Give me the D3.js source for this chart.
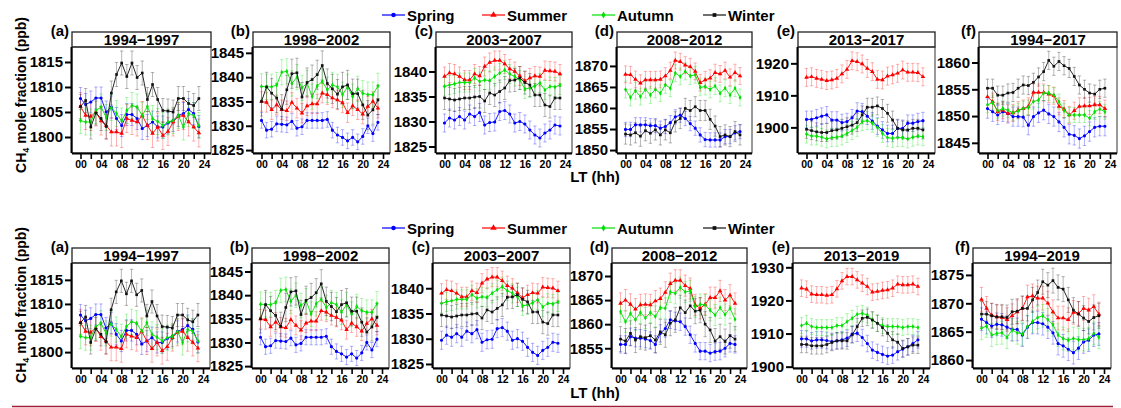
<!DOCTYPE html>
<html>
<head>
<meta charset="utf-8">
<script src="https://cdn.jsdelivr.net/npm/d3@7"></script>
<style>
  body { margin: 0; background: #fff; }
  svg { display: block; font-family: "Liberation Sans", Arial, sans-serif; font-weight: bold; }
</style>
</head>
<body>
<div class="chart"></div>
<script>
// DATA ------------------------------------

const hours = [0,1,2,3,4,5,6,7,8,9,10,11,12,13,14,15,16,17,18,19,20,21,22,23];
const seasons = ["Spring", "Summer", "Autumn", "Winter"];
const letters = ["(a)", "(b)", "(c)", "(d)", "(e)", "(f)"];
const periodsTop = ["1994−1997", "1998−2002", "2003−2007", "2008−2012", "2013−2017", "1994−2017"];
const periodsBottom = ["1994−1997", "1998−2002", "2003−2007", "2008−2012", "2013−2019", "1994−2019"];
const xTicks = [0,2,4,6,8,10,12,14,16,18,20,22,24];
const xTickLabels = ["00","","04","","08","","12","","16","","20","","24"];

// 1994-1997
const spr9497 = [1807.7,1806.5,1807.0,1807.8,1807.8,1805.0,1806.0,1803.7,1802.3,1804.5,1804.5,1803.7,1801.7,1802.3,1803.0,1802.0,1802.0,1802.8,1803.3,1804.3,1804.7,1805.5,1804.7,1802.1];
const sum9497 = [1806.1,1804.3,1804.1,1805.0,1803.2,1802.3,1801.0,1801.0,1800.7,1803.7,1803.3,1803.0,1804.3,1802.3,1800.7,1802.0,1800.3,1801.1,1803.0,1804.1,1804.3,1803.0,1802.0,1800.8];
const aut9497 = [1803.3,1803.0,1803.0,1805.3,1806.0,1803.9,1805.9,1804.7,1803.2,1805.3,1806.3,1806.0,1804.3,1806.1,1803.7,1803.1,1802.3,1803.0,1803.3,1804.3,1802.0,1804.7,1804.3,1802.3];
const win9497 = [1806.1,1807.3,1802.0,1804.8,1803.7,1802.1,1808.8,1812.5,1814.8,1812.1,1814.8,1811.9,1812.8,1807.5,1810.5,1807.5,1805.3,1805.2,1805.0,1807.7,1807.7,1806.7,1806.3,1807.7];
const err9497 = [2.2, 2.8, 2.6, 2.4];
const ticks9497 = [1800, 1805, 1810, 1815];

// 1998-2002
const spr9802 = [1831.1,1829.1,1829.3,1830.4,1830.3,1830.2,1830.9,1829.5,1829.8,1831.1,1831.1,1831.1,1831.1,1831.3,1829.1,1828.1,1827.6,1826.9,1827.6,1826.7,1827.8,1830.0,1828.4,1830.7];
const sum9802 = [1835.0,1834.8,1833.3,1834.3,1833.3,1833.1,1834.8,1833.6,1832.6,1834.1,1834.5,1834.5,1836.7,1836.4,1835.7,1835.3,1834.7,1832.7,1834.1,1833.3,1832.4,1834.0,1835.0,1833.6];
const aut9802 = [1838.1,1838.0,1838.0,1838.4,1841.0,1841.2,1838.7,1840.0,1837.8,1838.8,1836.0,1838.2,1839.1,1837.4,1838.4,1838.0,1836.4,1838.0,1836.0,1837.6,1836.7,1836.4,1836.4,1838.2];
const win9802 = [1835.0,1838.0,1836.7,1835.7,1833.4,1837.4,1840.7,1840.9,1835.9,1838.9,1839.5,1840.5,1842.4,1838.7,1837.6,1836.5,1838.0,1838.4,1836.6,1836.6,1834.3,1832.2,1833.3,1835.3];
const err9802 = [1.6, 2.0, 2.6, 3.0];
const ticks9802 = [1825, 1830, 1835, 1840, 1845];

// 2003-2007
const spr0307 = [1829.7,1830.7,1830.3,1831.0,1830.3,1831.5,1831.0,1831.8,1829.3,1829.8,1829.9,1832.0,1832.2,1831.5,1829.7,1830.0,1829.5,1828.3,1827.3,1826.7,1827.7,1828.3,1829.3,1829.1];
const sum0307 = [1839.0,1839.7,1839.5,1839.0,1838.3,1838.3,1839.5,1839.1,1841.0,1841.8,1842.2,1842.2,1841.5,1840.5,1840.0,1839.1,1838.1,1838.7,1839.1,1839.0,1840.2,1840.1,1840.0,1839.5];
const aut0307 = [1837.0,1837.3,1837.5,1837.8,1837.8,1837.8,1838.7,1838.0,1838.3,1838.2,1839.0,1839.7,1840.3,1839.5,1839.0,1838.3,1836.5,1836.7,1837.1,1837.7,1836.3,1837.0,1836.9,1837.3];
const win0307 = [1834.7,1834.5,1834.3,1834.5,1834.7,1834.7,1834.9,1835.0,1834.1,1835.7,1835.3,1836.0,1836.7,1838.2,1838.3,1838.7,1837.8,1837.3,1835.3,1835.3,1833.3,1833.0,1834.7,1834.7];
const err0307 = [1.8, 1.9, 1.9, 2.3];
const ticks0307 = [1825, 1830, 1835, 1840];

// 2008-2012 (top row)
const spr0812t = [1854.9,1854.9,1856.0,1856.0,1856.0,1855.8,1855.8,1855.2,1855.6,1856.5,1857.9,1858.3,1857.5,1856.3,1855.2,1853.6,1852.5,1852.4,1852.4,1852.4,1853.2,1853.2,1854.1,1854.4];
const sum0812t = [1868.0,1867.9,1866.8,1865.9,1866.7,1866.7,1866.7,1866.8,1867.6,1868.9,1871.3,1871.0,1870.2,1869.8,1868.7,1866.0,1866.7,1867.1,1868.4,1868.1,1868.9,1867.3,1868.4,1867.6];
const aut0812t = [1864.4,1862.5,1864.1,1862.7,1864.4,1863.1,1864.4,1863.5,1865.5,1864.7,1868.3,1867.5,1868.7,1867.6,1867.9,1864.9,1865.1,1864.4,1865.2,1863.5,1864.7,1863.1,1864.7,1862.5];
const win0812t = [1853.8,1853.6,1854.1,1853.3,1854.6,1854.0,1854.8,1853.6,1854.8,1854.1,1856.7,1857.5,1859.9,1859.4,1860.3,1859.4,1859.4,1857.3,1855.7,1853.2,1853.6,1853.2,1854.4,1853.6];
const err0812t = [1.7, 2.0, 2.0, 2.4];
const ticks0812t = [1850, 1855, 1860, 1865, 1870];

// 2013-2017
const spr1317 = [1902.5,1902.5,1903.0,1903.5,1903.9,1902.3,1902.3,1901.5,1901.8,1903.0,1905.1,1904.9,1903.5,1902.0,1900.4,1899.2,1898.1,1898.1,1899.7,1899.7,1901.3,1901.3,1901.8,1902.1];
const sum1317 = [1915.6,1915.8,1915.3,1915.0,1914.6,1914.8,1915.3,1916.7,1918.1,1920.8,1920.5,1919.8,1918.4,1917.4,1915.0,1914.8,1916.0,1916.4,1916.9,1917.9,1917.2,1917.2,1917.1,1915.8];
const aut1317 = [1897.9,1897.3,1897.3,1896.9,1896.4,1896.8,1896.9,1897.3,1898.1,1899.0,1900.0,1901.8,1902.1,1901.3,1900.0,1898.1,1896.8,1896.6,1896.8,1896.8,1896.4,1896.9,1897.3,1897.1];
const win1317 = [1899.4,1899.0,1898.6,1898.4,1898.4,1899.0,1899.2,1899.7,1900.2,1900.7,1901.5,1903.9,1906.3,1906.3,1906.7,1905.9,1904.4,1902.3,1899.7,1899.2,1899.2,1899.7,1899.7,1899.2];
const err1317 = [2.6, 2.8, 2.8, 2.8];
const ticks1317 = [1900, 1910, 1920];

// 1994-2017
const spr9417 = [1851.4,1850.8,1850.2,1850.8,1850.5,1849.9,1849.9,1849.8,1848.3,1849.9,1850.6,1851.1,1850.4,1849.9,1848.9,1847.9,1846.6,1846.4,1845.8,1846.3,1847.1,1847.9,1848.1,1848.1];
const sum9417 = [1853.6,1852.7,1850.8,1851.1,1850.5,1850.6,1851.1,1851.4,1851.8,1854.4,1854.4,1854.4,1854.1,1853.8,1851.8,1851.3,1850.2,1851.0,1851.8,1851.9,1851.9,1852.1,1852.1,1851.4];
const aut9417 = [1852.1,1852.5,1851.0,1851.4,1851.1,1850.6,1851.0,1851.4,1851.6,1852.7,1853.0,1854.3,1854.3,1853.9,1852.7,1851.0,1850.2,1850.2,1850.2,1850.2,1849.6,1850.8,1851.3,1850.8];
const win9417 = [1855.2,1855.2,1853.9,1853.9,1854.3,1854.4,1855.2,1855.8,1855.7,1856.3,1857.3,1858.3,1860.4,1859.3,1860.2,1859.4,1858.9,1857.4,1855.8,1855.0,1854.3,1854.1,1855.0,1855.2];
const err9417 = [1.8, 1.6, 1.4, 1.7];
const ticks9417 = [1845, 1850, 1855, 1860];

// 2008-2012 (bottom row)
const spr0812b = [1855.8,1855.8,1857.4,1857.1,1857.1,1856.9,1856.6,1855.8,1858.1,1859.1,1860.9,1860.7,1860.5,1859.5,1857.8,1856.0,1854.4,1854.4,1854.0,1854.3,1854.4,1855.0,1856.0,1855.8];
const sum0812b = [1864.3,1865.0,1864.1,1863.1,1864.0,1864.1,1864.0,1864.8,1865.3,1866.6,1868.4,1869.1,1869.1,1868.0,1867.4,1864.0,1863.3,1864.1,1865.5,1865.5,1866.9,1865.0,1866.0,1864.3];
const aut0812b = [1862.6,1860.5,1862.2,1860.9,1862.4,1861.3,1862.4,1861.6,1863.4,1863.3,1866.7,1866.4,1867.6,1866.7,1866.9,1863.6,1864.1,1864.0,1862.9,1861.9,1863.4,1862.0,1863.3,1861.0];
const win0812b = [1856.9,1856.5,1858.1,1856.7,1857.4,1857.2,1857.6,1856.7,1858.4,1857.8,1860.2,1860.9,1863.4,1862.4,1863.8,1862.7,1862.9,1860.0,1858.8,1856.5,1857.4,1856.4,1857.6,1856.9];
const err0812b = [1.8, 2.2, 2.2, 2.6];
const ticks0812b = [1855, 1860, 1865, 1870];

// 2013-2019
const spr1319 = [1908.4,1908.4,1907.8,1908.1,1908.1,1907.9,1907.6,1907.8,1908.1,1908.6,1909.8,1910.1,1908.8,1907.0,1905.0,1904.3,1903.7,1903.2,1903.5,1904.5,1905.3,1906.0,1907.0,1908.1];
const sum1319 = [1923.7,1923.4,1921.9,1921.7,1921.7,1921.5,1921.7,1923.5,1925.9,1927.2,1927.2,1926.2,1925.2,1924.2,1922.5,1922.7,1923.0,1923.2,1923.7,1924.9,1924.7,1924.7,1924.9,1924.2];
const aut1319 = [1912.4,1913.1,1912.1,1911.8,1911.8,1911.8,1911.8,1912.4,1912.4,1913.6,1914.6,1915.8,1916.1,1915.6,1914.1,1913.1,1912.4,1912.1,1912.1,1912.1,1911.8,1912.1,1912.1,1911.8];
const win1319 = [1906.7,1906.7,1906.3,1906.3,1906.3,1906.7,1907.3,1907.8,1907.8,1907.8,1909.6,1912.1,1914.6,1914.9,1914.1,1913.1,1911.8,1910.1,1908.1,1907.4,1905.5,1906.0,1906.5,1906.5];
const err1319 = [2.5, 2.5, 2.4, 2.5];
const ticks1319 = [1900, 1910, 1920, 1930];

// 1994-2019
const spr9419 = [1867.2,1866.6,1866.0,1866.3,1866.2,1865.8,1865.4,1865.4,1864.4,1865.8,1866.6,1866.6,1866.4,1865.8,1864.8,1862.9,1862.5,1861.9,1861.3,1862.1,1863.2,1863.5,1864.4,1864.6];
const sum9419 = [1870.7,1869.1,1867.9,1867.6,1867.5,1867.1,1867.8,1868.5,1869.1,1871.1,1871.3,1870.9,1870.9,1870.0,1868.5,1867.4,1867.4,1867.1,1868.4,1868.2,1869.1,1868.8,1869.4,1868.1];
const aut9419 = [1865.6,1866.0,1864.4,1864.7,1864.8,1864.0,1865.3,1864.8,1864.6,1865.9,1866.8,1867.5,1867.8,1867.1,1866.2,1864.4,1863.8,1863.5,1863.8,1863.6,1863.6,1863.8,1864.7,1864.0];
const win9419 = [1868.1,1868.1,1867.8,1867.6,1867.6,1867.5,1868.5,1868.6,1869.1,1869.1,1870.6,1871.9,1873.8,1873.2,1874.0,1872.8,1872.5,1870.6,1868.8,1868.1,1867.4,1866.8,1867.5,1867.8];
const err9419 = [2.0, 2.1, 2.0, 2.2];
const ticks9419 = [1860, 1865, 1870, 1875];

// y extents of each panel frame
const domTop = [[1796.8, 1818], [1824.4, 1846.2], [1823.7, 1844.9], [1849.3, 1874.5], [1892, 1925.1], [1843.1, 1862.9]];
const domBottom = [[1796.7, 1818.5], [1824.6, 1846.8], [1824.2, 1845], [1850.9, 1872.7], [1899.6, 1931.3], [1858.6, 1877.1]];

// CHART INIT ------------------------------

const width = 1121, height = 408;
const colors = {Spring: "#0000ff", Summer: "#ff0000", Autumn: "#00e000", Winter: "#111111"};
const symbols = {Spring: d3.symbolCircle, Summer: d3.symbolTriangle, Autumn: d3.symbolDiamond, Winter: d3.symbolSquare};
const symSize = {Spring: 8, Summer: 9, Autumn: 7, Winter: 7};

const svg = d3.select(".chart").append("svg")
    .attr("width", width)
    .attr("height", height);

const rows = [
  {
    top: 47, bottom: 153, legendY: 15, lty: 182, ylabY: 95,
    lefts: [72, 253, 436, 617, 798, 979], widths: [139, 137, 136, 135, 137, 138],
    panels: [
      {period: periodsTop[0], series: [spr9497, sum9497, aut9497, win9497], err: err9497, ticks: ticks9497, dom: domTop[0]},
      {period: periodsTop[1], series: [spr9802, sum9802, aut9802, win9802], err: err9802, ticks: ticks9802, dom: domTop[1]},
      {period: periodsTop[2], series: [spr0307, sum0307, aut0307, win0307], err: err0307, ticks: ticks0307, dom: domTop[2]},
      {period: periodsTop[3], series: [spr0812t, sum0812t, aut0812t, win0812t], err: err0812t, ticks: ticks0812t, dom: domTop[3]},
      {period: periodsTop[4], series: [spr1317, sum1317, aut1317, win1317], err: err1317, ticks: ticks1317, dom: domTop[4]},
      {period: periodsTop[5], series: [spr9417, sum9417, aut9417, win9417], err: err9417, ticks: ticks9417, dom: domTop[5]}
    ]
  },
  {
    top: 263, bottom: 368, legendY: 228, lty: 398, ylabY: 305,
    lefts: [72, 252, 433, 612, 793, 973], widths: [138, 137, 137, 135, 137, 138],
    panels: [
      {period: periodsBottom[0], series: [spr9497, sum9497, aut9497, win9497], err: err9497, ticks: ticks9497, dom: domBottom[0]},
      {period: periodsBottom[1], series: [spr9802, sum9802, aut9802, win9802], err: err9802, ticks: ticks9802, dom: domBottom[1]},
      {period: periodsBottom[2], series: [spr0307, sum0307, aut0307, win0307], err: err0307, ticks: ticks0307, dom: domBottom[2]},
      {period: periodsBottom[3], series: [spr0812b, sum0812b, aut0812b, win0812b], err: err0812b, ticks: ticks0812b, dom: domBottom[3]},
      {period: periodsBottom[4], series: [spr1319, sum1319, aut1319, win1319], err: err1319, ticks: ticks1319, dom: domBottom[4]},
      {period: periodsBottom[5], series: [spr9419, sum9419, aut9419, win9419], err: err9419, ticks: ticks9419, dom: domBottom[5]}
    ]
  }
];

// PANELS ----------------------------------

function drawPanel(p, letter, left, w, top, bottom) {
  const g = svg.append("g");

  const xScale = d3.scaleLinear().domain([0, 24]).range([left + 8.5, left + w - 7]);
  const yScale = d3.scaleLinear().domain(p.dom).range([bottom, top]);

  // title strip
  g.append("rect")
    .attr("x", left).attr("y", top - 15)
    .attr("width", w).attr("height", 15)
    .attr("fill", "#fff").attr("stroke", "#222").attr("stroke-width", 1.3);
  g.append("text")
    .attr("x", left + w / 2).attr("y", top - 2)
    .attr("text-anchor", "middle").attr("font-size", 15)
    .text(p.period);
  g.append("text")
    .attr("x", left - 3).attr("y", top - 11)
    .attr("text-anchor", "end").attr("font-size", 15)
    .text(letter);

  // frame
  g.append("rect")
    .attr("x", left).attr("y", top)
    .attr("width", w).attr("height", bottom - top)
    .attr("fill", "none").attr("stroke", "#333").attr("stroke-width", 1);

  const xAxis = d3.axisBottom(xScale)
    .tickValues(xTicks)
    .tickFormat((d, i) => xTickLabels[i])
    .tickSize(6).tickPadding(2).tickSizeOuter(0);
  const yAxis = d3.axisLeft(yScale)
    .tickValues(p.ticks)
    .tickFormat(d3.format("d"))
    .tickSize(7).tickPadding(2).tickSizeOuter(0);

  const gx = g.append("g")
    .attr("transform", `translate(0, ${bottom})`)
    .call(xAxis);
  gx.select(".domain").attr("d", `M${left},0.5H${left + w}`).attr("stroke-width", 2).attr("stroke", "#000");
  gx.selectAll(".tick line").attr("stroke-width", 1.6).attr("stroke", "#000");
  gx.selectAll(".tick text").attr("font-size", 10.5).attr("font-weight", "bold").attr("font-family", "Liberation Sans, Arial, sans-serif").attr("fill", "#000");

  const gy = g.append("g")
    .attr("transform", `translate(${left}, 0)`)
    .call(yAxis);
  gy.select(".domain").attr("d", `M-0.5,${top}V${bottom}`).attr("stroke-width", 2).attr("stroke", "#000");
  gy.selectAll(".tick line").attr("stroke-width", 2).attr("stroke", "#000");
  gy.selectAll(".tick text").attr("font-size", 15).attr("font-weight", "bold").attr("font-family", "Liberation Sans, Arial, sans-serif").attr("fill", "#000");

  const line = d3.line().x((d, i) => xScale(hours[i])).y(d => yScale(d));

  // error bars
  seasons.forEach((s, k) => {
    const e = p.err[k];
    const eg = g.append("g")
      .attr("stroke", colors[s]).attr("stroke-opacity", 0.3).attr("stroke-width", 1);
    eg.selectAll(".eb").data(p.series[k]).enter().append("path")
      .attr("class", "eb")
      .attr("fill", "none")
      .attr("d", (d, i) => {
        const cx = xScale(hours[i]), y1 = yScale(d - e), y2 = yScale(d + e);
        return `M${cx},${y1}V${y2}M${cx - 1.7},${y1}H${cx + 1.7}M${cx - 1.7},${y2}H${cx + 1.7}`;
      });
  });

  // lines and markers
  seasons.forEach((s, k) => {
    g.append("path")
      .datum(p.series[k])
      .attr("fill", "none")
      .attr("stroke", colors[s])
      .attr("stroke-width", 0.9)
      .attr("d", line);
    g.selectAll(".m" + k).data(p.series[k]).enter().append("path")
      .attr("class", "m" + k)
      .attr("transform", (d, i) => `translate(${xScale(hours[i])}, ${yScale(d)})`)
      .attr("fill", colors[s])
      .attr("d", d3.symbol().type(symbols[s]).size(symSize[s]));
  });
}

const legendX = [382, 482, 592, 703];

rows.forEach(r => {
  r.panels.forEach((p, j) => drawPanel(p, letters[j], r.lefts[j], r.widths[j], r.top, r.bottom));

  // legend
  seasons.forEach((s, k) => {
    const lx = legendX[k];
    svg.append("line")
      .attr("x1", lx).attr("x2", lx + 23)
      .attr("y1", r.legendY).attr("y2", r.legendY)
      .attr("stroke", colors[s]).attr("stroke-width", 1.2);
    svg.append("path")
      .attr("transform", `translate(${lx + 11.5}, ${r.legendY})`)
      .attr("fill", colors[s])
      .attr("d", d3.symbol().type(symbols[s]).size(symSize[s] * 2));
    svg.append("text")
      .attr("x", lx + 25).attr("y", r.legendY + 6)
      .attr("font-size", 15)
      .text(s);
  });

  // x title
  svg.append("text")
    .attr("x", 595).attr("y", r.lty)
    .attr("text-anchor", "middle").attr("font-size", 15)
    .text("LT (hh)");

  // y title
  const yl = svg.append("text")
    .attr("transform", `translate(26, ${r.ylabY}) rotate(-90)`)
    .attr("text-anchor", "middle").attr("font-size", 14);
  yl.append("tspan").text("CH");
  yl.append("tspan").attr("font-size", 9).attr("dy", 3).text("4");
  yl.append("tspan").attr("dy", -3).text(" mole fraction (ppb)");
});

// rule under the figure
svg.append("line")
  .attr("x1", 12).attr("x2", 1113)
  .attr("y1", 406.5).attr("y2", 406.5)
  .attr("stroke", "#a31d35").attr("stroke-width", 1.5);
</script>
</body>
</html>
